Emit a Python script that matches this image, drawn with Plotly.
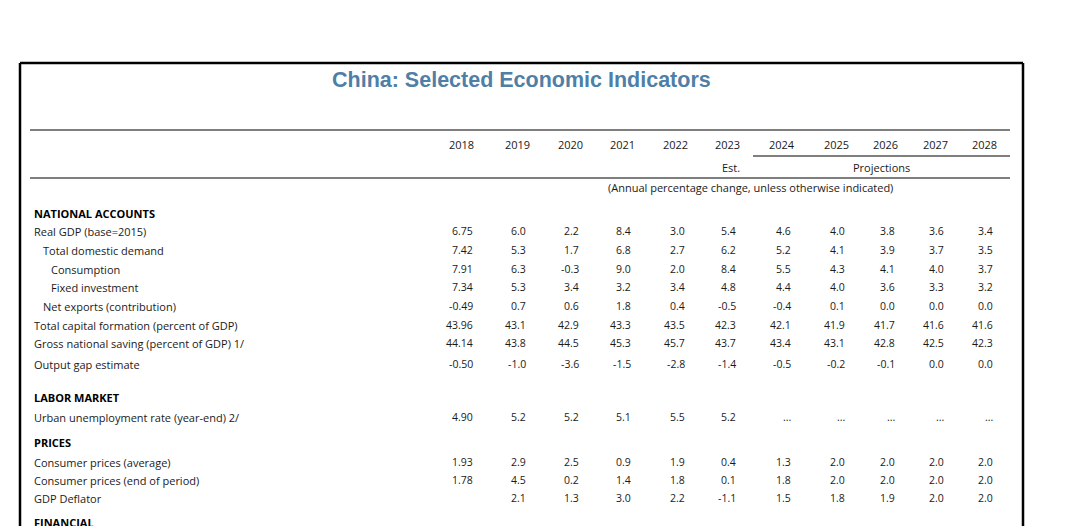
import plotly.graph_objects as go

W, H = 1082, 526

title = "China: Selected Economic Indicators"
years = ["2018", "2019", "2020", "2021", "2022", "2023", "2024", "2025", "2026", "2027", "2028"]
subheader = "(Annual percentage change, unless otherwise indicated)"

# rows: (label, indent level, values) ; section headers have values None
sections = [
    ("NATIONAL ACCOUNTS", None, None),
    ("Real GDP (base=2015)", 0, ["6.75", "6.0", "2.2", "8.4", "3.0", "5.4", "4.6", "4.0", "3.8", "3.6", "3.4"]),
    ("Total domestic demand", 1, ["7.42", "5.3", "1.7", "6.8", "2.7", "6.2", "5.2", "4.1", "3.9", "3.7", "3.5"]),
    ("Consumption", 2, ["7.91", "6.3", "-0.3", "9.0", "2.0", "8.4", "5.5", "4.3", "4.1", "4.0", "3.7"]),
    ("Fixed investment", 2, ["7.34", "5.3", "3.4", "3.2", "3.4", "4.8", "4.4", "4.0", "3.6", "3.3", "3.2"]),
    ("Net exports (contribution)", 1, ["-0.49", "0.7", "0.6", "1.8", "0.4", "-0.5", "-0.4", "0.1", "0.0", "0.0", "0.0"]),
    ("Total capital formation (percent of GDP)", 0, ["43.96", "43.1", "42.9", "43.3", "43.5", "42.3", "42.1", "41.9", "41.7", "41.6", "41.6"]),
    ("Gross national saving (percent of GDP) 1/", 0, ["44.14", "43.8", "44.5", "45.3", "45.7", "43.7", "43.4", "43.1", "42.8", "42.5", "42.3"]),
    ("Output gap estimate", 0, ["-0.50", "-1.0", "-3.6", "-1.5", "-2.8", "-1.4", "-0.5", "-0.2", "-0.1", "0.0", "0.0"]),
    ("LABOR MARKET", None, None),
    ("Urban unemployment rate (year-end) 2/", 0, ["4.90", "5.2", "5.2", "5.1", "5.5", "5.2", "...", "...", "...", "...", "..."]),
    ("PRICES", None, None),
    ("Consumer prices (average)", 0, ["1.93", "2.9", "2.5", "0.9", "1.9", "0.4", "1.3", "2.0", "2.0", "2.0", "2.0"]),
    ("Consumer prices (end of period)", 0, ["1.78", "4.5", "0.2", "1.4", "1.8", "0.1", "1.8", "2.0", "2.0", "2.0", "2.0"]),
    ("GDP Deflator", 0, ["", "2.1", "1.3", "3.0", "2.2", "-1.1", "1.5", "1.8", "1.9", "2.0", "2.0"]),
    ("FINANCIAL", None, None),
]

# layout constants (page pixels)
row_y = [213, 231, 250, 269, 287, 306, 325, 343, 364, 397, 417, 442, 462, 480, 498, 522]
col_hdr_right = [476, 532, 585, 637, 690, 742, 797, 851, 900, 950, 999]
col_val_right = [475, 528, 581, 633, 687, 738, 793, 847, 897, 946, 995]
indent_x = [32, 41, 49]

# the page body has an 8px default margin: offset axes so data coords == page pixels
OFF = 8

FONT = "Open Sans, Noto Sans, DejaVu Sans, sans-serif"
TXT = "#1a1a1a"

ann = []
ann.append(dict(x=521, y=80, text="<b>" + title + "</b>", showarrow=False,
                font=dict(family="Liberation Sans, Arial, sans-serif", size=21.5, color="#4f7fa6"),
                xanchor="center", yanchor="middle"))
for yr, xr in zip(years, col_hdr_right):
    ann.append(dict(x=xr, y=144, text=yr, showarrow=False, xanchor="right", yanchor="middle",
                    font=dict(family=FONT, size=11, color=TXT)))
ann.append(dict(x=742, y=167, text="Est.", showarrow=False, xanchor="right", yanchor="middle",
                font=dict(family=FONT, size=11, color=TXT)))
ann.append(dict(x=881, y=167, text="Projections", showarrow=False, xanchor="center", yanchor="middle",
                font=dict(family=FONT, size=11, color=TXT)))
ann.append(dict(x=750, y=187, text=subheader, showarrow=False, xanchor="center", yanchor="middle",
                font=dict(family=FONT, size=11, color=TXT)))

for (label, lvl, vals), y in zip(sections, row_y):
    if vals is None:
        ann.append(dict(x=indent_x[0], y=y, text="<b>" + label + "</b>", showarrow=False, xanchor="left",
                        yanchor="middle", font=dict(family=FONT, size=11, color="#000")))
        continue
    ann.append(dict(x=indent_x[lvl], y=y, text=label, showarrow=False, xanchor="left",
                    yanchor="middle", font=dict(family=FONT, size=11, color=TXT)))
    for v, xr in zip(vals, col_val_right):
        if v == "":
            continue
        ann.append(dict(x=xr, y=y, text=v, showarrow=False, xanchor="right", yanchor="middle",
                        font=dict(family=FONT, size=10.5, color=TXT)))

shapes = [
    # outer box
    dict(type="line", x0=20, x1=1023, y0=63, y1=63, line=dict(color="#000", width=2.5)),
    dict(type="line", x0=20, x1=20, y0=63, y1=540, line=dict(color="#000", width=2.5)),
    dict(type="line", x0=1023, x1=1023, y0=63, y1=540, line=dict(color="#000", width=2.5)),
    # rules
    dict(type="line", x0=30, x1=1010, y0=130, y1=130, line=dict(color="#000", width=1.2)),
    dict(type="line", x0=753, x1=1010, y0=156, y1=156, line=dict(color="#000", width=1.2)),
    dict(type="line", x0=30, x1=1010, y0=178, y1=178, line=dict(color="#000", width=1.2)),
]

fig = go.Figure()
fig.add_trace(go.Scatter(x=[OFF, W + OFF], y=[OFF, H + OFF], mode="markers", marker=dict(opacity=0),
                         hoverinfo="skip", showlegend=False))
fig.update_layout(
    width=W, height=H, margin=dict(l=0, r=0, t=0, b=0),
    paper_bgcolor="white", plot_bgcolor="white",
    xaxis=dict(range=[OFF, W + OFF], visible=False, fixedrange=True),
    yaxis=dict(range=[H + OFF, OFF], visible=False, fixedrange=True),
    annotations=ann, shapes=shapes, showlegend=False,
)
fig.write_html("out.html")
